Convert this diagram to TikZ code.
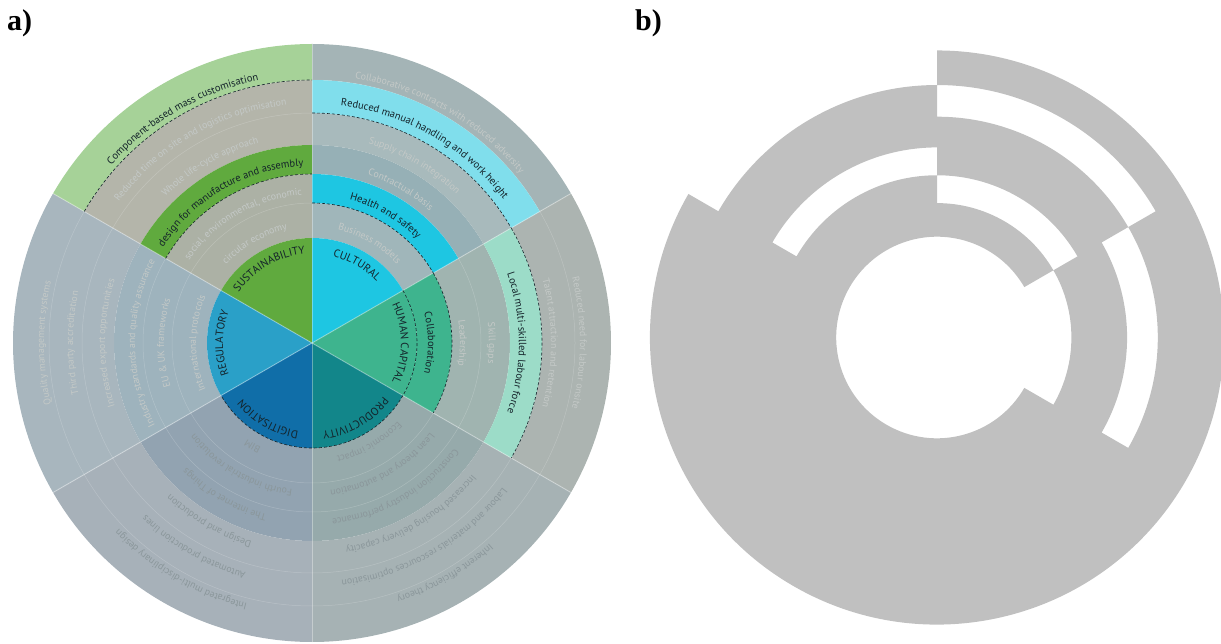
\documentclass[tikz,border=0pt]{standalone}
\usepackage{fontspec}
\setmainfont{PT Sans}
\newfontfamily\panelfont{Liberation Serif}
\usetikzlibrary{decorations.text}

% sector colours
\definecolor{sustc}{RGB}{96,170,62}
\definecolor{cultc}{RGB}{30,198,226}
\definecolor{humc}{RGB}{62,180,142}
\definecolor{prodc}{RGB}{18,134,138}
\definecolor{digc}{RGB}{16,110,168}
\definecolor{regc}{RGB}{42,160,200}
\definecolor{sustl}{RGB}{166,210,152}
\definecolor{cultl}{RGB}{128,222,236}
\definecolor{huml}{RGB}{156,220,200}
% greyed rings
\definecolor{gsi}{RGB}{172,177,165}
\definecolor{gso}{RGB}{180,181,170}
\definecolor{gc1}{RGB}{160,182,186}
\definecolor{gc3}{RGB}{150,176,182}
\definecolor{gc4}{RGB}{168,186,188}
\definecolor{gc6}{RGB}{164,180,182}
\definecolor{ghi}{RGB}{160,180,176}
\definecolor{gho}{RGB}{172,180,177}
\definecolor{gpi}{RGB}{150,170,171}
\definecolor{gpo}{RGB}{166,178,180}
\definecolor{gdi}{RGB}{146,163,177}
\definecolor{gdo}{RGB}{167,177,185}
\definecolor{gri}{RGB}{158,179,189}
\definecolor{gro}{RGB}{168,182,190}
\definecolor{greyb}{RGB}{192,192,192}
\definecolor{darktext}{RGB}{20,35,42}
\definecolor{lighttext}{RGB}{196,201,199}
\definecolor{midtext}{RGB}{138,150,154}

\newcommand\piefont{\fontsize{11}{13}\selectfont}
\newcommand\darkfont{\fontsize{10.5}{12}\selectfont}
\newcommand\faintfont{\fontsize{9.8}{11}\selectfont}
\newcommand\panelsize{\fontsize{30}{32}\selectfont}

% ring segment: angles #1..#2, radii #3..#4
\newcommand\segpath[4]{(#1:#3) arc[start angle=#1, end angle=#2, radius=#3] -- (#2:#4) arc[start angle=#2, end angle=#1, radius=#4] -- cycle}
\newcommand\seg[5]{\fill[#1] \segpath{#2}{#3}{#4}{#5};}
% text on a clockwise arc round the centre
\newcommand\arclabel[5]{%
  \pgfmathsetmacro\sa{#2+45}\pgfmathsetmacro\ea{#2-45}%
  \path[decorate, decoration={text along path, text align=center, text color=#5, text={|#4|#1}}]
    (\sa:#3) arc[start angle=\sa, end angle=\ea, radius=#3];}

\begin{document}
\begin{tikzpicture}[x=1pt, y=1pt,
    dashline/.style={draw=darktext, line width=.6, dash pattern=on 3pt off 2pt}]
  \useasboundingbox (0,0) rectangle (1221,643);
  \node[anchor=north west, inner sep=0, font=\panelfont\bfseries\panelsize] (lbla) at (7,634) {a)};
  \node[anchor=north west, inner sep=0, font=\panelfont\bfseries\panelsize] (lblb) at (635,634) {b)};

  % a) wheel
  \begin{scope}[shift={(312,300)}]
    \seg{gsi}{90}{150}{105}{169}
    \seg{gso}{90}{150}{198}{263}
    \seg{gc1}{30}{90}{105}{140}
    \seg{gc3}{30}{90}{169}{198}
    \seg{gc4}{30}{90}{198}{230}
    \seg{gc6}{30}{90}{263}{299}
    \seg{ghi}{-30}{30}{140}{198}
    \seg{gho}{-30}{30}{230}{299}
    \seg{gpi}{-90}{-30}{105}{198}
    \seg{gpo}{-90}{-30}{198}{299}
    \seg{gdi}{-150}{-90}{105}{198}
    \seg{gdo}{-150}{-90}{198}{299}
    \seg{gri}{150}{210}{105}{198}
    \seg{gro}{150}{210}{198}{299}
    \foreach \r in {140,169,230,263}
      \draw[white, opacity=.2, line width=.5] (0,0) circle[radius=\r];
    % highlighted rings
    \seg{sustc}{90}{150}{169}{198}
    \seg{sustl}{90}{150}{263}{299}
    \seg{cultc}{30}{90}{140}{169}
    \seg{cultl}{30}{90}{230}{263}
    \seg{humc}{-30}{30}{105}{140}
    \seg{huml}{-30}{30}{198}{230}
    % centre
    \foreach \a/\c [evaluate=\a as \b using \a+60] in {90/sustc, 30/cultc, -30/humc, -90/prodc, -150/digc, 150/regc}
      \fill[\c] (0,0) -- (\a:105) arc[start angle=\a, end angle=\b, radius=105] -- cycle;
    \foreach \a in {30,90,...,330}
      \draw[white, opacity=.35, line width=1] (0,0) -- (\a:299);
    \foreach \a/\b/\r in {150/90/169, 150/90/263, 90/30/140, 90/30/230, 30/-30/105, 30/-30/140, 30/-30/230, -30/-150/105}
      \draw[dashline] (\a:\r) arc[start angle=\a, end angle=\b, radius=\r];

    % labels
    \foreach \m/\t in {120/SUSTAINABILITY, 60/CULTURAL, 0/HUMAN CAPITAL, -60/PRODUCTIVITY, -120/DIGITISATION, 180/REGULATORY}
      {\expandafter\arclabel\expandafter{\t}{\m}{89}{\piefont}{darktext}}
    \foreach \m/\r/\t in {120/177/design for manufacture and assembly, 120/268/Component-based mass customisation,
        60/148/Health and safety, 60/239/Reduced manual handling and work height,
        0/116/Collaboration, 0/207/Local multi-skilled labour force}
      {\expandafter\arclabel\expandafter{\t}{\m}{\r}{\darkfont}{darktext}}
    \foreach \m/\r/\t in {120/116/circular economy, 120/207/Whole life-cycle approach,
        120/239/Reduced time on site and logistics optimisation,
        60/116/Business models, 60/177/Contractual basis, 60/207/Supply chain integration,
        60/268/Collaborative contracts with reduced adversity,
        0/148/Leadership, 0/177/Skill gaps, 0/239/Talent attraction and retention, 0/268/Reduced need for labour onsite,
        180/116/International protocols, 180/148/EU {\&} UK frameworks,
        180/177/Industry standards and quality assurance, 180/207/Increased export opportunities,
        180/239/Third party accreditation, 180/268/Quality management systems}
      {\expandafter\arclabel\expandafter{\t}{\m}{\r}{\faintfont}{lighttext}}
    \arclabel{social, environmental, economic}{120}{148}{\faintfont}{lighttext}
    \foreach \m/\r/\t in {-60/116/Economic impact, -60/148/Lean theory and automation,
        -60/177/Construction industry performance, -60/207/Increased housing delivery capacity,
        -60/239/Labour and materials rescources optimisation, -60/268/Inherent efficiency theory,
        -120/116/BIM, -120/148/Fourth industrial revolution, -120/177/The internet of Things,
        -120/207/Design and production, -120/239/Automated production lines,
        -120/268/Integrated multi-disciplinary design}
      {\expandafter\arclabel\expandafter{\t}{\m}{\r}{\faintfont}{midtext}}
  \end{scope}

  % b) greyed part only
  \begin{scope}[shift={(937,305.5)}, scale=0.96]
    \fill[greyb] \segpath{90}{150}{105}{169} \segpath{90}{150}{198}{263}
      \segpath{30}{90}{105}{140} \segpath{30}{90}{169}{230} \segpath{30}{90}{263}{299}
      \segpath{-30}{30}{140}{198} \segpath{-30}{30}{230}{299}
      \segpath{150}{330}{105}{299};
  \end{scope}
\end{tikzpicture}
\end{document}
